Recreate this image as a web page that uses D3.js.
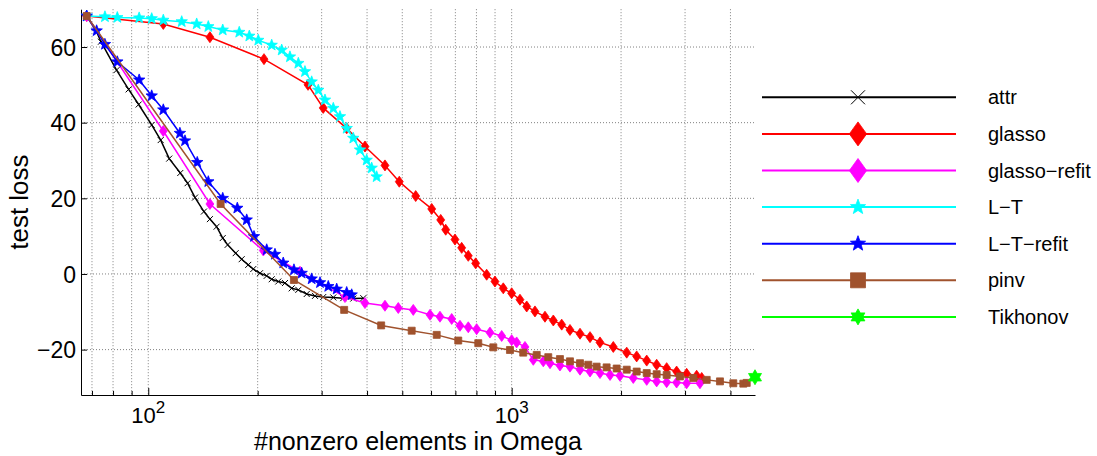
<!DOCTYPE html>
<html>
<head>
<meta charset="utf-8">
<script src="https://cdn.jsdelivr.net/npm/d3@7"></script>
<style>
  body { margin: 0; background: #fff; }
  text { font-family: "Liberation Sans", Arial, Helvetica, sans-serif; fill: #000; }
</style>
</head>
<body>
<div id="chart"></div>
<script>
// Values (x = #nonzero elements, y = test loss)
const attrX = [67.7, 72.1, 74.1, 81.8, 88.3, 94.1, 102.2, 108.2, 114.2, 122.5, 128.3, 134.5, 142.3, 147.8, 154.2, 160.3, 165.4, 174.0, 180.7, 188.4, 194.5, 203, 211.8, 218.6, 227.9, 237.8, 248.1, 258.8, 272.9, 287.6, 303, 323, 344, 366.6, 390.6];
const attrY = [68.2, 64.0, 61.4, 53.9, 48.8, 44.8, 39.4, 35.4, 30.5, 26.7, 24.0, 20.2, 16.5, 14.5, 12.5, 9.5, 7.7, 5.5, 3.9, 2.4, 1.3, 0.2, -0.5, -1.4, -2.0, -2.4, -3.8, -4.2, -5.3, -5.8, -6.1, -6.2, -6.4, -6.5, -6.4];

const glassoX = [67.7, 110.0, 147.8, 208.2, 275.2, 303.0, 351.6, 394.8, 448.1, 490.6, 544.4, 602.6, 637.9, 658.4, 698.2, 728.5, 759.6, 796.0, 853.5, 899.5, 948.2, 1000, 1054, 1100, 1159, 1235, 1302, 1373, 1447, 1542, 1643, 1750, 1904, 2073, 2208, 2353, 2506, 2670, 2844, 3031, 3229, 3334];
const glassoY = [68.2, 66.1, 62.6, 56.8, 50.0, 43.9, 38.5, 33.7, 28.7, 24.4, 20.6, 17.2, 14.3, 11.7, 9.1, 6.9, 4.8, 2.8, -0.2, -2.0, -3.8, -5.1, -6.8, -8.6, -9.9, -11.3, -12.3, -13.4, -14.8, -15.8, -16.7, -18.1, -19.3, -20.8, -21.8, -22.9, -24.0, -24.9, -25.8, -26.4, -26.9, -27.5];

const glassoRefitX = [67.7, 110.0, 147.8, 207.3, 261.5, 347.8, 394.8, 448.1, 487.5, 536.1, 596.1, 634.9, 683.9, 720.7, 759.6, 801.1, 871.5, 938.7, 1000, 1032, 1088, 1147, 1222, 1275, 1358, 1447, 1542, 1643, 1750, 1865, 1986, 2161, 2353, 2506, 2670, 2844, 3031, 3297];
const glassoRefitY = [68.2, 37.8, 18.5, 6.2, 0.6, -6.1, -7.7, -8.4, -9.0, -9.5, -10.8, -11.3, -11.9, -13.7, -14.1, -14.6, -15.5, -16.4, -17.5, -18.1, -19.3, -22.7, -23.1, -23.6, -24.2, -24.5, -25.3, -25.8, -26.2, -26.7, -26.9, -27.5, -28.0, -28.4, -28.6, -28.7, -28.9, -28.9];

const ltX = [67.7, 76.0, 82.2, 94.4, 102.2, 110.0, 123.6, 135.9, 146.3, 160.3, 178.0, 189.7, 200.8, 218.6, 232.9, 245.4, 258.8, 269.9, 281.6, 293.7, 306.4, 323.0, 336.9, 351.6, 366.6, 382.5, 399.0, 411.9, 425.1];
const ltY = [68.2, 68.0, 67.8, 67.7, 67.5, 67.1, 66.7, 66.1, 65.4, 64.5, 63.9, 62.9, 61.8, 60.5, 59.2, 57.4, 55.7, 53.5, 50.8, 48.6, 46.0, 43.8, 41.6, 38.5, 35.9, 32.8, 30.1, 28.0, 25.7];

const ltRefitX = [67.7, 72.1, 76.0, 82.2, 94.4, 102.2, 110.0, 122.2, 126.2, 136.4, 146.3, 160.3, 175.8, 186.6, 195.4, 211.8, 223.2, 235.2, 251.7, 264.3, 281.6, 296.9, 312.9, 330.0, 351.6, 362.9];
const ltRefitY = [68.2, 64.3, 60.7, 56.1, 51.3, 47.1, 43.4, 37.2, 35.2, 29.5, 24.4, 20.0, 17.4, 14.3, 9.9, 6.4, 5.2, 2.9, 1.1, 0.2, -1.3, -2.3, -3.3, -4.0, -4.9, -5.5];

const pinvX = [67.7, 158.2, 251.7, 346.0, 437.4, 530.7, 621.9, 712.9, 809.3, 890.2, 989.3, 1076, 1172, 1261, 1358, 1447, 1542, 1625, 1713, 1825, 1945, 2073, 2208, 2353, 2506, 2670, 2905, 3161, 3441, 3743, 4073, 4340, 4434];
const pinvY = [68.2, 18.5, -1.6, -9.5, -13.6, -15.0, -16.1, -17.6, -18.3, -19.4, -20.1, -20.8, -21.4, -22.0, -22.5, -23.1, -23.6, -24.0, -24.5, -24.7, -25.0, -25.3, -25.8, -26.2, -26.5, -26.7, -27.1, -27.5, -28.0, -28.4, -28.9, -29.0, -28.8];

const tikhonovX = [4673];
const tikhonovY = [-27.3];

const seriesNames = ['attr', 'glasso', 'glasso\u2212refit', 'L\u2212T', 'L\u2212T\u2212refit', 'pinv', 'Tikhonov'];

// Axis settings
const xDomain = [65.3, 4673];
const yDomain = [-32, 70];
const yTicks = [-20, 0, 20, 40, 60];
const xMajorTicks = [100, 1000];
const xMinorTicks = [70, 80, 90, 200, 300, 400, 500, 600, 700, 800, 900, 2000, 3000, 4000];

// Series styling
const series = [
    { name: seriesNames[0], xs: attrX, ys: attrY, color: '#000000', marker: 'x', size: 6, legendSize: 14 },
    { name: seriesNames[1], xs: glassoX, ys: glassoY, color: '#ff0000', marker: 'diamond', size: 11, legendSize: 24 },
    { name: seriesNames[2], xs: glassoRefitX, ys: glassoRefitY, color: '#ff00ff', marker: 'diamond', size: 11, legendSize: 24 },
    { name: seriesNames[3], xs: ltX, ys: ltY, color: '#00ffff', marker: 'star', size: 12, legendSize: 16 },
    { name: seriesNames[4], xs: ltRefitX, ys: ltRefitY, color: '#0000ff', marker: 'star', size: 12, legendSize: 16 },
    { name: seriesNames[5], xs: pinvX, ys: pinvY, color: '#a0522d', marker: 'square', size: 7, legendSize: 15 },
    { name: seriesNames[6], xs: tikhonovX, ys: tikhonovY, color: '#00ff00', marker: 'hex', size: 15, legendSize: 16 }
];

const W = 1097, H = 456;
const plot = { left: 81, right: 755, top: 9.2, bottom: 395 };

const svg = d3.select('#chart')
    .append('svg')
    .attr('width', W)
    .attr('height', H);

const x = d3.scaleLog().domain(xDomain).range([plot.left, plot.right]);
const y = d3.scaleLinear().domain(yDomain).range([plot.bottom, plot.top]);

// Marker shapes
function starPath(R, r, n) {
    const pts = [];
    for (let i = 0; i < 2 * n; i++) {
        const a = -Math.PI / 2 + i * Math.PI / n;
        const rad = i % 2 === 0 ? R : r;
        pts.push([rad * Math.cos(a), rad * Math.sin(a)]);
    }
    return 'M' + pts.map(p => p[0].toFixed(2) + ',' + p[1].toFixed(2)).join('L') + 'Z';
}

function markerPath(type, s) {
    switch (type) {
        case 'diamond': {
            const h = s / 2, w = s * 0.36;
            return `M0,${-h}L${w},0L0,${h}L${-w},0Z`;
        }
        case 'star':
            return starPath(s / 2, s / 2 * 0.42, 5);
        case 'hex':
            return starPath(s / 2, s / 2 * 0.58, 6);
        case 'square':
            return `M${-s / 2},${-s / 2}h${s}v${s}h${-s}Z`;
        case 'x': {
            const a = s / 2;
            return `M${-a},${-a}L${a},${a}M${-a},${a}L${a},${-a}`;
        }
    }
}

function drawMarker(g, type, s, color, cx, cy) {
    const p = g.append('path')
        .attr('d', markerPath(type, s))
        .attr('transform', `translate(${cx},${cy})`);
    if (type === 'x') {
        p.attr('fill', 'none').attr('stroke', color).attr('stroke-width', 1);
    } else {
        p.attr('fill', color).attr('stroke', color).attr('stroke-width', 0.8);
    }
}

// Grid lines (dotted)
const allXTicks = xMajorTicks.concat(xMinorTicks);
const gridColor = '#808080';

svg.append('g')
    .attr('class', 'x-grid')
    .selectAll('line')
    .data(allXTicks)
    .enter()
    .append('line')
    .attr('x1', d => x(d))
    .attr('x2', d => x(d))
    .attr('y1', plot.top)
    .attr('y2', plot.bottom)
    .attr('stroke', gridColor)
    .attr('stroke-width', 1)
    .attr('stroke-dasharray', '1,2');

svg.append('g')
    .attr('class', 'y-grid')
    .selectAll('line')
    .data(yTicks)
    .enter()
    .append('line')
    .attr('x1', plot.left)
    .attr('x2', plot.right)
    .attr('y1', d => y(d))
    .attr('y2', d => y(d))
    .attr('stroke', gridColor)
    .attr('stroke-width', 1)
    .attr('stroke-dasharray', '1,2');

// Y axis
const yAxis = d3.axisLeft(y)
    .tickValues(yTicks)
    .tickSizeInner(-6)
    .tickSizeOuter(0)
    .tickPadding(5)
    .tickFormat(d => d < 0 ? '\u2212' + Math.abs(d) : String(d));

const yAxisG = svg.append('g')
    .attr('class', 'y-axis')
    .attr('transform', `translate(${plot.left},0)`)
    .call(yAxis);
yAxisG.select('.domain').attr('stroke', '#000').attr('stroke-width', 1);
yAxisG.selectAll('.tick line').attr('stroke', '#000');
yAxisG.selectAll('.tick text')
    .style('font-size', '23px')
    .attr('dy', '0.36em');

// X axis (major and minor ticks, labels drawn as 10^n)
const xAxis = d3.axisBottom(x)
    .tickValues(xMajorTicks)
    .tickSizeInner(-7)
    .tickSizeOuter(0)
    .tickFormat('');

const xAxisG = svg.append('g')
    .attr('class', 'x-axis')
    .attr('transform', `translate(0,${plot.bottom})`)
    .call(xAxis);
xAxisG.select('.domain').attr('stroke', '#000').attr('stroke-width', 1);
xAxisG.selectAll('.tick line').attr('stroke', '#000');

const xMinorG = svg.append('g')
    .attr('class', 'x-axis-minor')
    .attr('transform', `translate(0,${plot.bottom})`)
    .call(d3.axisBottom(x).tickValues(xMinorTicks).tickSizeInner(-4).tickSizeOuter(0).tickFormat(''));
xMinorG.select('.domain').remove();
xMinorG.selectAll('.tick line').attr('stroke', '#000');

const xLabels = svg.append('g').attr('class', 'x-tick-labels');
xMajorTicks.forEach(v => {
    const t = xLabels.append('text')
        .attr('x', x(v))
        .attr('y', 423)
        .attr('text-anchor', 'middle')
        .style('font-size', '22px');
    t.append('tspan').text('10');
    t.append('tspan')
        .attr('dy', -10)
        .style('font-size', '17px')
        .text(String(Math.round(Math.log10(v))));
});

// Axis labels
svg.append('text')
    .attr('class', 'x-axis-label')
    .attr('x', (plot.left + plot.right) / 2)
    .attr('y', 450)
    .attr('text-anchor', 'middle')
    .style('font-size', '25px')
    .text('#nonzero elements in Omega');

svg.append('text')
    .attr('class', 'y-axis-label')
    .attr('transform', `translate(28,${(plot.top + plot.bottom) / 2}) rotate(-90)`)
    .attr('text-anchor', 'middle')
    .style('font-size', '26px')
    .text('test loss');

// Series lines and markers
const line = d3.line()
    .x(d => x(d[0]))
    .y(d => y(d[1]));

series.forEach(s => {
    const pts = s.xs.map((v, i) => [v, s.ys[i]]);
    const g = svg.append('g').attr('class', 'series');
    if (pts.length > 1) {
        g.append('path')
            .datum(pts)
            .attr('d', line)
            .attr('fill', 'none')
            .attr('stroke', s.color)
            .attr('stroke-width', 1.5);
    }
    pts.forEach(p => drawMarker(g, s.marker, s.size, s.color, x(p[0]), y(p[1])));
});

// Legend
const legend = svg.append('g').attr('class', 'legend');
series.forEach((s, i) => {
    const ly = 97.3 + i * 36.6;
    legend.append('line')
        .attr('x1', 762)
        .attr('x2', 956)
        .attr('y1', ly)
        .attr('y2', ly)
        .attr('stroke', s.color)
        .attr('stroke-width', 2);
    drawMarker(legend, s.marker, s.legendSize, s.color, 858, ly);
    legend.append('text')
        .attr('x', 988)
        .attr('y', ly + 7)
        .style('font-size', '20px')
        .text(s.name);
});
</script>
</body>
</html>
